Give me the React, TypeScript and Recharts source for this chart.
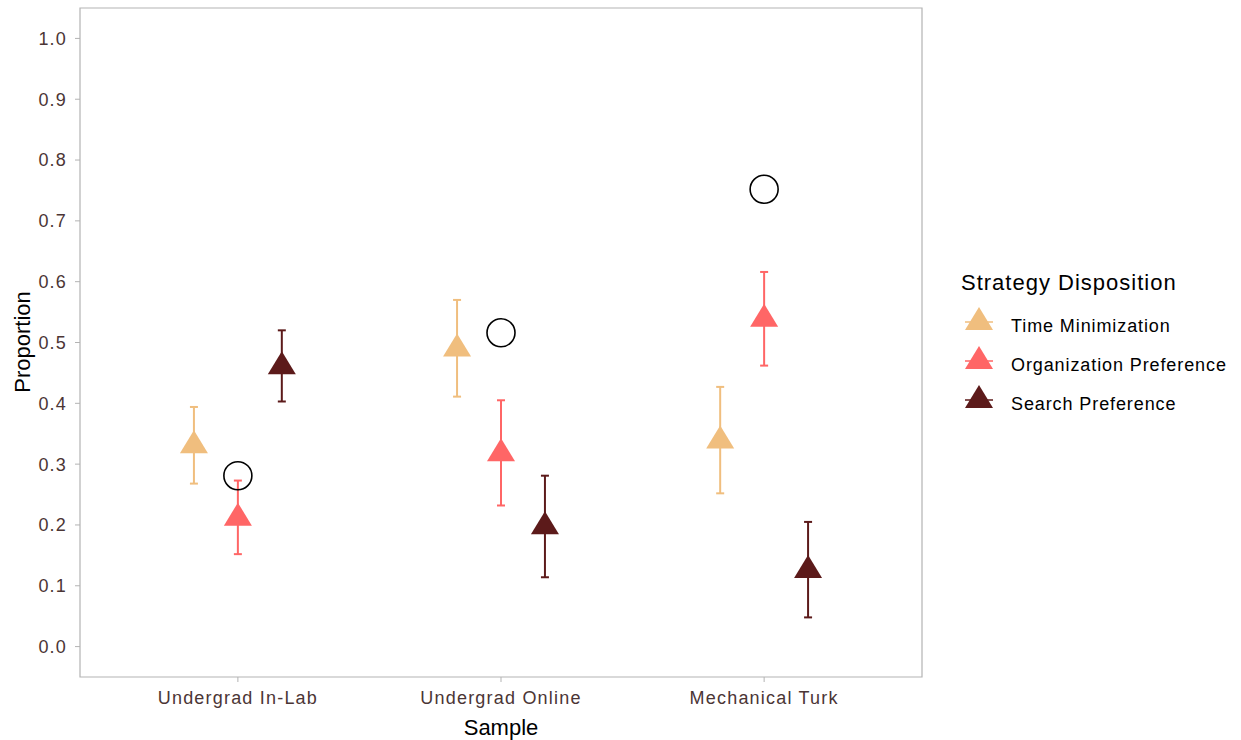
import React from 'react';
import { ScatterChart, Scatter, XAxis, YAxis, ErrorBar, ReferenceArea } from 'recharts';

if (typeof document !== 'undefined') document.body.style.margin = '0';

// 各サンプルのカテゴリ
const categories = ['Undergrad In-Lab', 'Undergrad Online', 'Mechanical Turk'];
const seriesNames = ['Time Minimization', 'Organization Preference', 'Search Preference'];
const seriesColors = ['#F0BE7E', '#FF6666', '#5C1A1A'];

// 推定値と誤差範囲（下限・上限）
const timeMean = [0.331, 0.49, 0.339];
const timeLow = [0.268, 0.411, 0.252];
const timeHigh = [0.394, 0.57, 0.427];

const orgMean = [0.212, 0.318, 0.539];
const orgLow = [0.152, 0.232, 0.462];
const orgHigh = [0.273, 0.405, 0.616];

const searchMean = [0.461, 0.198, 0.126];
const searchLow = [0.403, 0.114, 0.048];
const searchHigh = [0.52, 0.281, 0.205];

// 実測値（白丸）
const observed = [0.281, 0.516, 0.752];

const yTicks = [0, 0.1, 0.2, 0.3, 0.4, 0.5, 0.6, 0.7, 0.8, 0.9, 1.0];

const DODGE = 0.167;
const TICK_COLOR = '#4b3535';
const FONT = '"Liberation Sans", Arial, sans-serif';

const build = (mean: number[], low: number[], high: number[], offset: number) =>
  mean.map((m, i) => ({
    x: i + 1 + offset,
    y: m,
    err: [m - low[i], high[i] - m],
  }));

const seriesData = [
  build(timeMean, timeLow, timeHigh, -DODGE),
  build(orgMean, orgLow, orgHigh, 0),
  build(searchMean, searchLow, searchHigh, DODGE),
];

const observedData = observed.map((v, i) => ({ x: i + 1, y: v }));

const triangle = (color: string) => (props: any) => {
  const { cx, cy } = props;
  if (cx == null || cy == null) return <g />;
  return (
    <polygon
      points={`${cx},${cy - 15} ${cx - 14},${cy + 8} ${cx + 14},${cy + 8}`}
      fill={color}
    />
  );
};

const circle = (props: any) => {
  const { cx, cy } = props;
  if (cx == null || cy == null) return <g />;
  return <circle cx={cx} cy={cy} r={14} fill="none" stroke="#000" strokeWidth={1.6} />;
};

export default function App() {
  return (
    <div style={{ position: 'relative', width: 1241, height: 740, fontFamily: FONT, background: '#fff' }}>
      <ScatterChart width={1241} height={740} margin={{ top: 8, right: 319, bottom: 33, left: 0 }}>
        <XAxis
          type="number"
          dataKey="x"
          domain={[0.4, 3.6]}
          ticks={[1, 2, 3]}
          tickFormatter={(v: number) => categories[v - 1] ?? ''}
          axisLine={false}
          tickLine={{ stroke: '#b3b3b3' }}
          tickSize={5}
          tickMargin={9}
          height={30}
          tick={{ fill: TICK_COLOR, fontSize: 18, fontFamily: FONT, letterSpacing: 1.2 }}
          allowDataOverflow
        />
        <YAxis
          type="number"
          dataKey="y"
          domain={[-0.05, 1.05]}
          ticks={yTicks}
          tickFormatter={(v: number) => v.toFixed(1)}
          axisLine={false}
          tickLine={{ stroke: '#b3b3b3' }}
          tickSize={5}
          tickMargin={8}
          width={80}
          tick={{ fill: TICK_COLOR, fontSize: 18, fontFamily: FONT, letterSpacing: 1.2 }}
          allowDataOverflow
        />
        <ReferenceArea x1={0.4} x2={3.6} y1={-0.05} y2={1.05} fill="none" stroke="#b3b3b3" strokeWidth={1.2} />
        <Scatter data={observedData} shape={circle} isAnimationActive={false} />
        {seriesData.map((d, i) => (
          <Scatter key={seriesNames[i]} name={seriesNames[i]} data={d} shape={triangle(seriesColors[i])} isAnimationActive={false}>
            <ErrorBar dataKey="err" direction="y" width={4} stroke={seriesColors[i]} strokeWidth={2} isAnimationActive={false} />
          </Scatter>
        ))}
      </ScatterChart>
      <svg width={1241} height={740} style={{ position: 'absolute', left: 0, top: 0, pointerEvents: 'none' }}>
        <text x={501} y={735} textAnchor="middle" fontSize={22} fill="#000" fontFamily={FONT}>Sample</text>
        <text x={30} y={342} textAnchor="middle" fontSize={22} fill="#000" fontFamily={FONT} transform="rotate(-90 30 342)">Proportion</text>
        <text x={961} y={290} fontSize={22} fill="#000" fontFamily={FONT} letterSpacing={1}>Strategy Disposition</text>
        {seriesNames.map((name, i) => {
          const cy = 322 + i * 39;
          return (
            <g key={name}>
              <line x1={965} x2={993} y1={cy} y2={cy} stroke={seriesColors[i]} strokeWidth={1.5} />
              <polygon points={`979,${cy - 15} 965,${cy + 8} 993,${cy + 8}`} fill={seriesColors[i]} />
              <text x={1011} y={cy + 10} fontSize={18} fill="#000" fontFamily={FONT} letterSpacing={0.9}>{name}</text>
            </g>
          );
        })}
      </svg>
    </div>
  );
}
